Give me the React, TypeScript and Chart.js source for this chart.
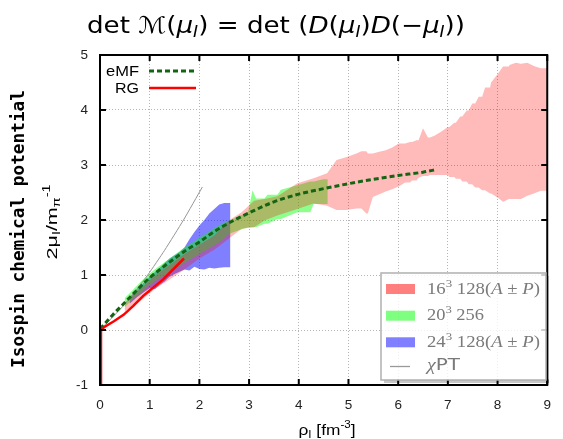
import React, { useEffect, useRef } from 'react';
import { Chart, registerables } from 'chart.js';

Chart.register(...registerables);

// ---------- data ----------
const xTicks = [0, 1, 2, 3, 4, 5, 6, 7, 8, 9];
const yTicks = [-1, 0, 1, 2, 3, 4, 5];

// eMF (dashed dark green)
const emfX = [0, 0.25, 0.5, 0.75, 1.0, 1.25, 1.5, 1.75, 2.0, 2.25, 2.5, 2.75, 3.0, 3.5, 4.0, 4.5, 5.0, 5.5, 6.0, 6.5, 6.78];
const emfY = [0.02, 0.27, 0.5, 0.73, 0.95, 1.13, 1.3, 1.46, 1.6, 1.76, 1.9, 2.02, 2.13, 2.33, 2.47, 2.57, 2.66, 2.74, 2.81, 2.87, 2.92];

// RG (red)
const rgX = [0.02, 0.02, 0.08, 0.28, 0.48, 0.67, 0.87, 1.07, 1.27, 1.47, 1.58, 1.69];
const rgY = [-1, 0, 0.05, 0.16, 0.28, 0.44, 0.62, 0.77, 0.92, 1.1, 1.2, 1.3];

// chiPT (thin grey)
const chiX = [0, 0.5, 0.96, 1.3, 1.68, 2.06];
const chiY = [0, 0.47, 1.0, 1.45, 2.0, 2.6];

// 16^3 128 (A±P) band (upper / lower edge)
const b16X = [0.5, 0.8, 1.1, 1.4, 1.7, 2.0, 2.3, 2.59, 2.85, 3.1, 3.31, 3.57, 3.97, 4.3, 4.57, 4.76, 4.95, 5.16, 5.26, 5.36, 5.39, 5.49, 5.62, 5.75, 5.88, 6.01, 6.14, 6.24, 6.28, 6.37, 6.41, 6.5, 6.6, 6.64, 6.73, 6.87, 7.0, 7.03, 7.13, 7.16, 7.25, 7.29, 7.38, 7.42, 7.49, 7.55, 7.62, 7.69, 7.75, 7.85, 7.87, 8.0, 8.11, 8.23, 8.24, 8.37, 8.47, 8.6, 8.73, 8.87, 9.0];
const b16Hi = [0.5, 0.74, 0.98, 1.18, 1.38, 1.55, 1.72, 1.99, 2.14, 2.35, 2.38, 2.43, 2.67, 2.76, 2.85, 3.09, 3.14, 3.21, 3.25, 3.25, 3.21, 3.21, 3.24, 3.27, 3.32, 3.39, 3.39, 3.42, 3.42, 3.45, 3.45, 3.67, 3.5, 3.5, 3.53, 3.61, 3.69, 3.69, 3.77, 3.77, 3.88, 3.88, 3.99, 3.99, 4.12, 4.12, 4.24, 4.24, 4.41, 4.41, 4.5, 4.65, 4.79, 4.79, 4.82, 4.86, 4.84, 4.86, 4.8, 4.76, 4.76];
const b16Lo = [0.34, 0.52, 0.74, 0.92, 1.1, 1.3, 1.46, 1.66, 1.84, 1.87, 1.99, 2.08, 2.2, 2.3, 2.26, 2.18, 2.18, 2.21, 2.21, 2.12, 2.12, 2.42, 2.47, 2.52, 2.56, 2.61, 2.68, 2.68, 2.72, 2.72, 2.77, 2.8, 2.8, 2.82, 2.82, 2.82, 2.82, 2.78, 2.78, 2.75, 2.75, 2.7, 2.7, 2.65, 2.65, 2.59, 2.59, 2.54, 2.54, 2.48, 2.48, 2.41, 2.33, 2.38, 2.38, 2.38, 2.38, 2.44, 2.48, 2.53, 2.53];

// 20^3 256 band
const b20X = [0.5, 0.65, 0.8, 0.95, 1.1, 1.25, 1.4, 1.55, 1.7, 1.85, 2.0, 2.15, 2.3, 2.45, 2.6, 2.78, 2.98, 3.07, 3.14, 3.31, 3.37, 3.57, 3.64, 3.97, 4.23, 4.3, 4.49, 4.58];
const b20Hi = [0.58, 0.72, 0.86, 0.99, 1.1, 1.2, 1.3, 1.4, 1.5, 1.58, 1.68, 1.76, 1.85, 1.93, 1.99, 2.06, 2.14, 2.54, 2.39, 2.39, 2.46, 2.46, 2.55, 2.63, 2.7, 2.7, 2.74, 2.74];
const b20Lo = [0.42, 0.55, 0.66, 0.78, 0.88, 0.97, 1.05, 1.13, 1.22, 1.3, 1.38, 1.46, 1.54, 1.62, 1.75, 1.81, 1.87, 1.87, 1.87, 1.93, 1.93, 2.02, 2.02, 2.14, 2.14, 2.29, 2.29, 2.29];

// 24^3 128 (A±P) band
const b24X = [0.6, 0.75, 0.9, 1.0, 1.1, 1.2, 1.3, 1.4, 1.5, 1.6, 1.7, 1.8, 1.9, 2.0, 2.1, 2.2, 2.3, 2.4, 2.5, 2.62];
const b24Hi = [0.6, 0.74, 0.88, 0.97, 1.05, 1.13, 1.22, 1.3, 1.36, 1.42, 1.5, 1.65, 1.78, 1.9, 2.0, 2.12, 2.2, 2.28, 2.31, 2.31];
const b24Lo = [0.48, 0.6, 0.7, 0.76, 0.74, 0.82, 0.88, 0.97, 1.02, 1.06, 1.1, 1.08, 1.15, 1.11, 1.1, 1.13, 1.12, 1.13, 1.14, 1.14];

// ---------- helpers ----------
const pts = (xs: number[], ys: number[]) => xs.map((x, i) => ({ x, y: ys[i] }));

// closed band outline: upper edge forward, lower edge backward
function bandOutline(xs: number[], hi: number[], lo: number[]) {
  return [...pts(xs, hi), ...pts(xs, lo).reverse()];
}

type Run = { t: string; f: string; dy?: number };

function runsWidth(ctx: CanvasRenderingContext2D, runs: Run[]) {
  let w = 0;
  for (const r of runs) {
    ctx.font = r.f;
    w += ctx.measureText(r.t).width;
  }
  return w;
}

function drawRuns(
  ctx: CanvasRenderingContext2D,
  runs: Run[],
  x: number,
  y: number,
  target: number,
  align: 'left' | 'center' | 'right'
) {
  const w = runsWidth(ctx, runs);
  const s = target > 0 ? target / w : 1;
  ctx.save();
  ctx.translate(x, y);
  ctx.scale(s, 1);
  let cx = align === 'left' ? 0 : align === 'center' ? -w / 2 : -w;
  ctx.textAlign = 'left';
  ctx.textBaseline = 'alphabetic';
  for (const r of runs) {
    ctx.font = r.f;
    ctx.fillText(r.t, cx, r.dy || 0);
    cx += ctx.measureText(r.t).width;
  }
  ctx.restore();
}

const DV = "'DejaVu Sans', sans-serif";
const LS = "'Liberation Sans', Arial, sans-serif";
const SER = "'Liberation Serif', 'DejaVu Serif', serif";

const decorPlugin = {
  id: 'decor',
  afterDraw(chart: any) {
    const { ctx, chartArea: a, scales } = chart;
    const xs = scales.x;
    const ys = scales.y;
    ctx.save();

    // inward tick marks and frame
    ctx.strokeStyle = '#000';
    ctx.lineWidth = 2;
    ctx.beginPath();
    xTicks.forEach((v) => {
      const p = xs.getPixelForValue(v);
      ctx.moveTo(p, a.bottom);
      ctx.lineTo(p, a.bottom - 6);
      ctx.moveTo(p, a.top);
      ctx.lineTo(p, a.top + 6);
    });
    yTicks.forEach((v) => {
      const p = ys.getPixelForValue(v);
      ctx.moveTo(a.left, p);
      ctx.lineTo(a.left + 6, p);
      ctx.moveTo(a.right, p);
      ctx.lineTo(a.right - 6, p);
    });
    ctx.stroke();
    ctx.strokeRect(a.left, a.top, a.right - a.left, a.bottom - a.top);

    ctx.fillStyle = '#000';
    // Title
    const T = 23;
    const ts = `${T}px ${DV}`;
    const ti = `italic ${T}px ${DV}`;
    const tsub = `italic 15px ${DV}`;
    drawRuns(
      ctx,
      [
        { t: 'det ', f: ts },
        { t: '\u2133', f: ts },
        { t: '(', f: ts },
        { t: 'μ', f: ti },
        { t: 'I', f: tsub, dy: 4 },
        { t: ') = det (', f: ts },
        { t: 'D', f: ti },
        { t: '(', f: ts },
        { t: 'μ', f: ti },
        { t: 'I', f: tsub, dy: 4 },
        { t: ')', f: ts },
        { t: 'D', f: ti },
        { t: '(\u2212', f: ts },
        { t: 'μ', f: ti },
        { t: 'I', f: tsub, dy: 4 },
        { t: '))', f: ts },
      ],
      276,
      33,
      378,
      'center'
    );

    // Y axis title 1 (bold mono)
    ctx.save();
    ctx.translate(24, 229);
    ctx.rotate(-Math.PI / 2);
    drawRuns(ctx, [{ t: 'Isospin chemical potential', f: `bold 18px 'DejaVu Sans Mono', monospace` }], 0, 0, 278, 'center');
    ctx.restore();

    // Y axis title 2
    ctx.save();
    ctx.translate(56.5, 222);
    ctx.rotate(-Math.PI / 2);
    drawRuns(
      ctx,
      [
        { t: '2μ', f: `15px ${LS}` },
        { t: 'I', f: `10px ${LS}`, dy: 3 },
        { t: '/m', f: `15px ${LS}` },
        { t: 'π', f: `10px ${LS}`, dy: 3 },
        { t: '-1', f: `10px ${LS}`, dy: -7 },
      ],
      0,
      0,
      75,
      'center'
    );
    ctx.restore();

    // X axis title
    drawRuns(
      ctx,
      [
        { t: 'ρ', f: `15px ${LS}` },
        { t: 'I', f: `10px ${LS}`, dy: 3 },
        { t: ' [fm', f: `15px ${LS}` },
        { t: '-3', f: `10px ${LS}`, dy: -7 },
        { t: ']', f: `15px ${LS}` },
      ],
      327,
      435,
      57,
      'center'
    );

    // top-left legend (eMF, RG)
    drawRuns(ctx, [{ t: 'eMF', f: `14.5px ${LS}` }], 139, 76, 33, 'right');
    drawRuns(ctx, [{ t: 'RG', f: `14.5px ${LS}` }], 139, 92.7, 24, 'right');
    ctx.lineWidth = 3;
    ctx.strokeStyle = 'rgb(20,100,20)';
    ctx.setLineDash([5, 3]);
    ctx.beginPath();
    ctx.moveTo(149, 71);
    ctx.lineTo(196, 71);
    ctx.stroke();
    ctx.setLineDash([]);
    ctx.lineWidth = 2.5;
    ctx.strokeStyle = 'red';
    ctx.beginPath();
    ctx.moveTo(149, 88);
    ctx.lineTo(196, 88);
    ctx.stroke();

    // bottom-right legend box
    const bx = 381, by = 273, bw = 165, bh = 107;
    ctx.fillStyle = 'rgba(0,0,0,0.22)';
    ctx.fillRect(bx + bw, by + 3, 3, bh);
    ctx.fillRect(bx + 3, by + bh, bw, 3);
    ctx.fillStyle = 'rgba(255,255,255,0.8)';
    ctx.fillRect(bx, by, bw, bh);
    ctx.strokeStyle = '#b0b0b0';
    ctx.lineWidth = 1.5;
    ctx.strokeRect(bx, by, bw, bh);

    const patches = [
      { c: 'rgba(255,0,0,0.5)', y: 289 },
      { c: 'rgba(0,255,0,0.5)', y: 315.7 },
      { c: 'rgba(0,0,255,0.5)', y: 342.3 },
    ];
    patches.forEach((p) => {
      ctx.fillStyle = p.c;
      ctx.fillRect(386, p.y - 5, 29, 10);
    });
    ctx.strokeStyle = '#999';
    ctx.lineWidth = 1.3;
    ctx.beginPath();
    ctx.moveTo(390, 366.5);
    ctx.lineTo(410, 366.5);
    ctx.stroke();

    ctx.fillStyle = '#7a7a7a';
    const sf = `16px ${SER}`;
    const sfi = `italic 16px ${SER}`;
    const sfs = `11px ${SER}`;
    drawRuns(ctx, [
      { t: '16', f: sf }, { t: '3', f: sfs, dy: -7 }, { t: ' 128(', f: sf },
      { t: 'A', f: sfi }, { t: ' ± ', f: sf }, { t: 'P', f: sfi }, { t: ')', f: sf },
    ], 427, 293.5, 113, 'left');
    drawRuns(ctx, [
      { t: '20', f: sf }, { t: '3', f: sfs, dy: -7 }, { t: ' 256', f: sf },
    ], 427, 320, 57, 'left');
    drawRuns(ctx, [
      { t: '24', f: sf }, { t: '3', f: sfs, dy: -7 }, { t: ' 128(', f: sf },
      { t: 'A', f: sfi }, { t: ' ± ', f: sf }, { t: 'P', f: sfi }, { t: ')', f: sf },
    ], 427, 346.5, 113, 'left');
    drawRuns(ctx, [
      { t: 'χ', f: sfi }, { t: 'PT', f: `16px ${DV}` },
    ], 427, 370, 33, 'left');

    ctx.restore();
  },
};

function band(outline: { x: number; y: number }[], color: string, order: number, label: string) {
  return {
    label,
    data: outline,
    borderWidth: 1,
    borderColor: 'rgba(0,0,0,0)',
    borderDash: [4, 4],
    pointRadius: 0,
    spanGaps: true,
    fill: 'shape',
    backgroundColor: color,
    tension: 0,
    order,
  };
}

export default function App() {
  const canvasRef = useRef<HTMLCanvasElement | null>(null);

  useEffect(() => {
    document.body.style.margin = '0';
    const canvas = canvasRef.current;
    if (!canvas) return;

    const tickFont = { family: 'Liberation Sans', size: 13.5 };

    const chart = new Chart(canvas, {
      type: 'line',
      data: {
        datasets: [
          band(bandOutline(b24X, b24Hi, b24Lo), 'rgba(0,0,255,0.5)', 12, '24^3 128(A±P)'),
          band(bandOutline(b20X, b20Hi, b20Lo), 'rgba(0,255,0,0.45)', 11, '20^3 256'),
          band(bandOutline(b16X, b16Hi, b16Lo), 'rgba(255,0,0,0.27)', 10, '16^3 128(A±P)'),
          {
            label: 'χPT',
            data: pts(chiX, chiY),
            borderColor: 'rgb(150,150,150)',
            borderWidth: 1,
            pointRadius: 0,
            fill: false,
            tension: 0.2,
            order: 3,
          } as any,
          {
            label: 'eMF',
            data: pts(emfX, emfY),
            borderColor: 'rgb(20,100,20)',
            borderWidth: 3,
            borderDash: [5, 3],
            pointRadius: 0,
            fill: false,
            cubicInterpolationMode: 'monotone',
            order: 2,
          } as any,
          {
            label: 'RG',
            data: pts(rgX, rgY),
            borderColor: 'rgb(255,0,0)',
            borderWidth: 2.5,
            pointRadius: 0,
            fill: false,
            order: 1,
          } as any,
        ],
      },
      options: {
        animation: false,
        responsive: false,
        devicePixelRatio: 1,
        layout: { padding: { top: 55, right: 8, left: 0, bottom: 0 } },
        plugins: {
          legend: { display: false },
          title: { display: false },
          tooltip: { enabled: false },
        },
        scales: {
          x: {
            type: 'linear',
            min: 0,
            max: 9,
            afterBuildTicks: (s: any) => {
              s.ticks = xTicks.map((v) => ({ value: v }));
            },
            afterFit: (s: any) => {
              s.height = 54;
            },
            ticks: { font: tickFont, color: '#222', padding: 12, maxRotation: 0, autoSkip: false },
            grid: { color: '#b4b4b4', lineWidth: 1, drawTicks: false },
            border: { display: false, dash: [1, 2] },
          },
          y: {
            type: 'linear',
            min: -1,
            max: 5,
            afterBuildTicks: (s: any) => {
              s.ticks = yTicks.map((v) => ({ value: v }));
            },
            afterFit: (s: any) => {
              s.width = 100;
            },
            ticks: { font: tickFont, color: '#222', padding: 12, autoSkip: false },
            grid: { color: '#b4b4b4', lineWidth: 1, drawTicks: false },
            border: { display: false, dash: [1, 2] },
          },
        },
      } as any,
      plugins: [decorPlugin],
    });

    return () => chart.destroy();
  }, []);

  return (
    <div style={{ position: 'absolute', left: 0, top: 0, width: 563, height: 439 }}>
      <canvas ref={canvasRef} width={563} height={439} style={{ display: 'block' }} />
    </div>
  );
}
